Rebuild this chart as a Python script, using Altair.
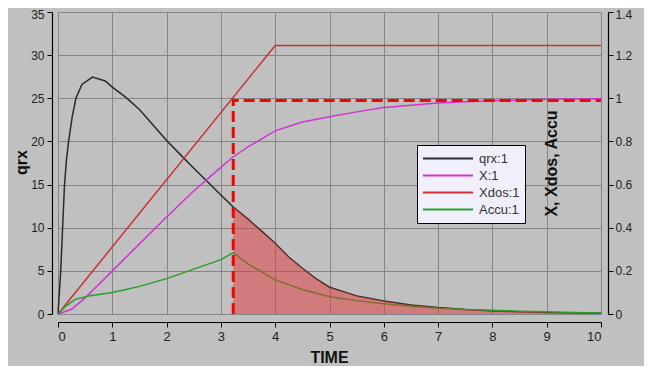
import altair as alt
import pandas as pd

NARROW = "Liberation Sans Narrow, Arial Narrow, Liberation Sans, sans-serif"
NORMAL = "Liberation Sans, Arial, sans-serif"

# ---- data ----
qrx_t = [0, 0.05, 0.085, 0.12, 0.155, 0.195, 0.26, 0.33, 0.44, 0.635,
         0.87, 1.0, 1.25, 1.5, 1.75, 2.0, 2.25, 2.5, 2.75, 3.0,
         3.227, 3.5, 3.75, 4.0, 4.25, 4.5, 4.75, 5.0, 5.5, 6.0,
         6.5, 7.0, 7.5, 8.0, 8.5, 9.0, 9.5, 10.0]
qrx_v = [0, 5, 10, 15, 17.8, 20, 22.8, 25, 26.6, 27.45,
         27.0, 26.3, 25.1, 23.7, 21.9, 20.1, 18.5, 16.9, 15.35, 13.8,
         12.4, 11.0, 9.6, 8.2, 6.6, 5.3, 4.1, 3.1, 2.1, 1.5,
         1.05, 0.75, 0.52, 0.36, 0.25, 0.17, 0.12, 0.08]

x_t = [0, 0.25, 0.5, 0.75, 1.0, 1.5, 2.0, 2.5, 2.75, 3.0, 3.227, 3.5, 4.0,
       4.5, 5.0, 5.5, 6.0, 6.5, 7.0, 7.5, 8.0, 8.5, 9.0, 9.5, 10.0]
x_v = [0, 0.022, 0.075, 0.137, 0.2, 0.325, 0.45, 0.57, 0.625, 0.68, 0.729, 0.775, 0.849,
       0.89, 0.914, 0.937, 0.957, 0.968, 0.978, 0.984, 0.989, 0.992, 0.995, 0.997, 0.998]

xdos_t = [0, 4.0, 10.0]
xdos_v = [0, 1.245, 1.245]

accu_t = [0, 0.13, 0.226, 0.32, 0.56, 1.0, 1.25, 1.5, 2.0, 2.5, 3.0, 3.227, 3.5,
          4.0, 4.5, 5.0, 5.5, 6.0, 6.5, 7.0, 7.5, 8.0, 8.5, 9.0, 9.5, 10.0]
accu_v = [0, 0.034, 0.052, 0.068, 0.083, 0.1, 0.114, 0.128, 0.164, 0.208, 0.252, 0.284, 0.232,
          0.158, 0.114, 0.08, 0.062, 0.048, 0.036, 0.027, 0.021, 0.017, 0.013, 0.01, 0.007, 0.005]

dose_t = [3.227, 3.227, 10.0]
dose_v = [0, 0.99, 0.99]

series_names = ["qrx:1", "X:1", "Xdos:1", "Accu:1"]
series_colors = ["#2a2a2a", "#d035d0", "#cc3030", "#28a028"]

x_ticks = [0, 1, 2, 3, 4, 5, 6, 7, 8, 9, 10]
left_ticks = [0, 5, 10, 15, 20, 25, 30, 35]
right_ticks = [0, 0.2, 0.4, 0.6, 0.8, 1.0, 1.2, 1.4]

# ---- tables ----
df_q = pd.DataFrame({"t": qrx_t, "v": qrx_v, "series": series_names[0]})
df_r = pd.concat([
    pd.DataFrame({"t": x_t, "v": x_v, "series": series_names[1]}),
    pd.DataFrame({"t": xdos_t, "v": xdos_v, "series": series_names[2]}),
    pd.DataFrame({"t": accu_t, "v": accu_v, "series": series_names[3]}),
], ignore_index=True)
df_d = pd.DataFrame({"t": dose_t, "v": dose_v, "i": list(range(len(dose_t)))})

x_enc = alt.X("t:Q", scale=alt.Scale(domain=[0, 10], nice=False),
              axis=alt.Axis(values=x_ticks, title="TIME", offset=8, grid=True,
                            titleFont=NARROW, titleFontSize=16, titleX=271, titleY=40,
                            titleAlign="center", titleBaseline="alphabetic",
                            labelPadding=3, labelFontSize=13))

color_enc = alt.Color("series:N",
                      scale=alt.Scale(domain=series_names, range=series_colors),
                      legend=alt.Legend(title=None, orient="none", legendX=359, legendY=133,
                                        symbolType="stroke", symbolSize=2500,
                                        symbolStrokeWidth=2, clipHeight=17, rowPadding=0,
                                        padding=5, labelFont=NARROW, labelFontSize=13,
                                        labelColor="#333333", fillColor="#f0f0fc",
                                        strokeColor="#000000", labelOffset=5))

top_left_offset = {"condition": {"test": "datum.value == 35", "value": 2}, "value": 0}
top_right_offset = {"condition": {"test": "datum.value == 1.4", "value": 2}, "value": 0}

y_left = alt.Y("v:Q", scale=alt.Scale(domain=[0, 35], nice=False, zero=True),
               axis=alt.Axis(orient="left", values=left_ticks, title="qrx", offset=6,
                             grid=True, titleFont=NORMAL, titleFontSize=16,
                             titleX=-31, titleY=150, titleAngle=270, titleAlign="center",
                             titleBaseline="middle", labelPadding=3,
                             labelOffset=top_left_offset))
y_right = alt.Y("v:Q", scale=alt.Scale(domain=[0, 1.4], nice=False, zero=True),
                axis=alt.Axis(orient="right", values=right_ticks, format="~g",
                              title="X, Xdos, Accu", offset=7, grid=False,
                              titleFont=NORMAL, titleFontSize=16,
                              titleX=-57, titleY=151, titleAngle=270, titleAlign="center",
                              titleBaseline="middle", labelPadding=2,
                              labelOffset=top_right_offset))

layer_q = alt.Chart(df_q).mark_line(strokeWidth=1.5).encode(x=x_enc, y=y_left, color=color_enc)
layer_r = alt.Chart(df_r).mark_line(strokeWidth=1.5).encode(x=x_enc, y=y_right, color=color_enc)
layer_fill = alt.Chart(df_q).mark_area(color="#e03838", opacity=0.5).encode(
    x=x_enc,
    y=alt.Y("v:Q", scale=alt.Scale(domain=[0, 35], nice=False, zero=True), axis=None),
).transform_filter("datum.t >= 3.227")
layer_dose = alt.Chart(df_d).mark_line(color="#ff0000", strokeWidth=3, strokeDash=[11, 5]).encode(
    x=x_enc,
    y=alt.Y("v:Q", scale=alt.Scale(domain=[0, 1.4], nice=False, zero=True), axis=None),
    order="i:Q",
)

chart = alt.layer(layer_q, layer_r, layer_fill, layer_dose).resolve_scale(
    y="independent"
).properties(
    width=543, height=302,
    autosize=alt.AutoSizeParams(type="none"),
    padding={"left": 50, "top": 4, "right": 43, "bottom": 52},
    background="#c0c0c0",
).configure_view(
    fill="#c0c0c0", stroke=None
).configure_axis(
    labelFont=NARROW, labelFontSize=12, labelColor="#222222",
    titleFontWeight="bold", titleColor="#111111",
    domainColor="#000000", domainWidth=1.2, tickColor="#000000", tickSize=5,
    gridColor="#858585", gridWidth=1,
)

chart.save("out.html", embed_options={"renderer": "svg", "actions": False})
